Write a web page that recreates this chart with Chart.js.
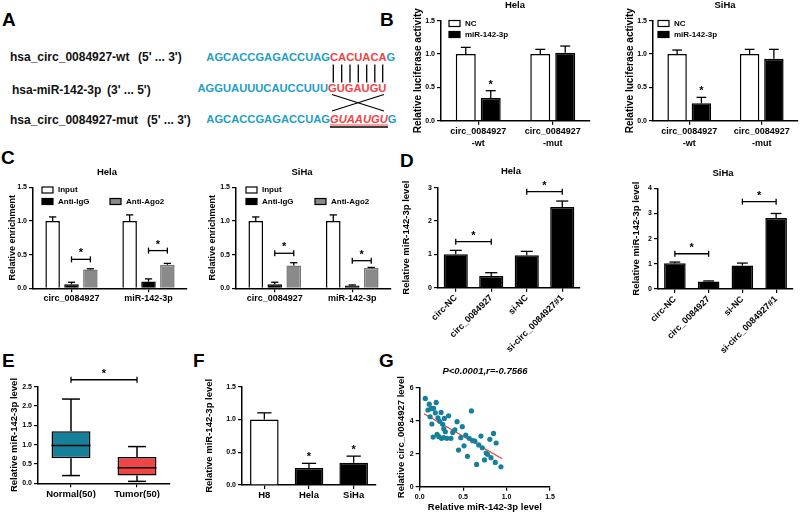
<!DOCTYPE html>
<html>
<head>
<meta charset="utf-8">
<script src="https://cdn.jsdelivr.net/npm/chart.js@4.4.1/dist/chart.umd.min.js"></script>
<style>
html, body { margin: 0; padding: 0; background: #fff; }
#wrap { position: relative; width: 800px; height: 513px; overflow: hidden; }
#wrap canvas, #wrap svg { position: absolute; left: 0; top: 0; }
</style>
</head>
<body>
<div id="wrap">
<svg width="800" height="513" font-family="Liberation Sans, Arial, sans-serif" font-weight="bold">
  <g font-size="19" fill="#000">
    <text x="2" y="26">A</text>
    <text x="380" y="26">B</text>
    <text x="1" y="164">C</text>
    <text x="400" y="167">D</text>
    <text x="2" y="367">E</text>
    <text x="193" y="367">F</text>
    <text x="379" y="367">G</text>
  </g>
  <g font-size="12" fill="#111">
    <text x="10" y="61">hsa_circ_0084927-wt</text><text x="138" y="61">(5' ... 3')</text>
    <text x="12" y="93.5">hsa-miR-142-3p</text><text x="107" y="93.5">(3' ... 5')</text>
    <text x="10" y="123.5">hsa_circ_0084927-mut</text><text x="147" y="123.5">(5' ... 3')</text>
  </g>
  <g font-size="11.2">
    <text x="330" y="61" text-anchor="end" fill="#1f9ec6">AGCACCGAGACCUAG</text>
    <text x="330" y="61"><tspan fill="#f24444">CACUACA</tspan><tspan fill="#1f9ec6">G</tspan></text>
    <text x="328" y="92" text-anchor="end" fill="#1f9ec6">AGGUAUUUCAUCCUUU</text>
    <text x="328" y="92" fill="#f24444">GUGAUGU</text>
    <text x="330" y="122.5" text-anchor="end" fill="#1f9ec6">AGCACCGAGACCUAG</text>
    <text x="330" y="122.5"><tspan fill="#f24444" font-style="italic">GUAAUGU</tspan><tspan fill="#1f9ec6">G</tspan></text>
  </g>
  <g stroke="#000" stroke-width="1.3">
    <line x1="333.3" y1="64.5" x2="333.3" y2="82.5"/>
    <line x1="341.7" y1="64.5" x2="341.7" y2="82.5"/>
    <line x1="350" y1="64.5" x2="350" y2="82.5"/>
    <line x1="358.3" y1="64.5" x2="358.3" y2="82.5"/>
    <line x1="366.7" y1="64.5" x2="366.7" y2="82.5"/>
    <line x1="374.8" y1="64.5" x2="374.8" y2="82.5"/>
    <line x1="382.7" y1="64.5" x2="382.7" y2="82.5"/>
    <line x1="332" y1="111" x2="384" y2="94.5"/>
    <line x1="332" y1="94.5" x2="384" y2="111"/>
    <line x1="330" y1="127" x2="388" y2="127"/>
  </g>
  <line x1="330" y1="125" x2="388" y2="125" stroke="#f24444" stroke-width="1"/>
</svg>
<canvas id="cBHela" width="800" height="513"></canvas>
<canvas id="cBSiha" width="800" height="513"></canvas>
<canvas id="cCHela" width="800" height="513"></canvas>
<canvas id="cCSiha" width="800" height="513"></canvas>
<canvas id="cDHela" width="800" height="513"></canvas>
<canvas id="cDSiha" width="800" height="513"></canvas>
<canvas id="cE" width="800" height="513"></canvas>
<canvas id="cF" width="800" height="513"></canvas>
<canvas id="cG" width="800" height="513"></canvas>
</div>
<script>
// B: luciferase reporter
const luciferaseGroups = [['circ_0084927', '-wt'], ['circ_0084927', '-mut']];
const lucHelaNC = [1.0, 1.0];
const lucHelaNCErr = [0.10, 0.07];
const lucHelaMiR = [0.34, 1.02];
const lucHelaMiRErr = [0.11, 0.10];
const lucSihaNC = [1.0, 1.0];
const lucSihaNCErr = [0.06, 0.07];
const lucSihaMiR = [0.26, 0.93];
const lucSihaMiRErr = [0.09, 0.14];

// C: RIP assay
const ripTargets = ['circ_0084927', 'miR-142-3p'];
const ripHelaInput = [1.0, 1.0];
const ripHelaInputErr = [0.06, 0.09];
const ripHelaIgG = [0.06, 0.10];
const ripHelaIgGErr = [0.03, 0.04];
const ripHelaAgo2 = [0.28, 0.35];
const ripHelaAgo2Err = [0.01, 0.02];
const ripSihaInput = [1.0, 1.0];
const ripSihaInputErr = [0.06, 0.09];
const ripSihaIgG = [0.06, 0.04];
const ripSihaIgGErr = [0.03, 0.01];
const ripSihaAgo2 = [0.34, 0.30];
const ripSihaAgo2Err = [0.04, 0.01];

// D: miR-142-3p after transfection
const transfectGroups = ['circ-NC', 'circ_0084927', 'si-NC', 'si-circ_0084927#1'];
const mirHela = [1.0, 0.35, 0.97, 2.42];
const mirHelaErr = [0.12, 0.10, 0.12, 0.18];
const mirSiha = [1.02, 0.30, 0.93, 2.82];
const mirSihaErr = [0.05, 0.02, 0.10, 0.18];

// E: tissues box plot
const tissueGroups = ['Normal(50)', 'Tumor(50)'];
const tissueMin = [0.20, 0.05];
const tissueQ1 = [0.65, 0.20];
const tissueMedian = [0.98, 0.40];
const tissueQ3 = [1.35, 0.68];
const tissueMax = [2.18, 0.95];

// F: cell lines
const cellLines = ['H8', 'Hela', 'SiHa'];
const cellLevel = [1.0, 0.26, 0.34];
const cellErr = [0.10, 0.07, 0.10];

// G: correlation
const corrMiR = [0.064, 0.095, 0.11, 0.13, 0.12, 0.16, 0.19, 0.18, 0.14, 0.155, 0.20, 0.21, 0.22, 0.23, 0.246, 0.25, 0.265, 0.277, 0.277, 0.284, 0.295, 0.314, 0.333, 0.36, 0.38, 0.405, 0.43, 0.447, 0.473, 0.49, 0.51, 0.53, 0.55, 0.57, 0.595, 0.61, 0.636, 0.655, 0.68, 0.705, 0.72, 0.746, 0.765, 0.78, 0.807, 0.82, 0.85, 0.87, 0.88, 0.935];
const corrCirc = [5.35, 4.65, 5.0, 4.73, 4.24, 4.75, 5.11, 4.48, 3.8, 3.01, 3.17, 4.18, 3.03, 3.96, 4.5, 2.93, 3.78, 3.51, 2.97, 4.14, 3.33, 2.93, 4.3, 2.93, 3.29, 3.45, 3.94, 2.22, 2.97, 3.64, 2.48, 3.13, 1.84, 2.93, 4.59, 2.79, 2.77, 1.35, 2.53, 3.07, 2.36, 1.62, 2.04, 1.96, 2.87, 1.76, 3.23, 1.47, 2.65, 1.21];
const fitX = [0.05, 0.95];
const fitY = [4.42, 1.70];

const FONT = '"Liberation Sans", Arial, Helvetica, sans-serif';
Chart.defaults.font.family = FONT;
Chart.defaults.color = '#000';
Chart.defaults.animation = false;
Chart.defaults.plugins.legend.display = false;
Chart.defaults.plugins.tooltip.enabled = false;

const TEAL = '#16809b';
const RED = '#f24444';
const GREY = '#8a8a8a';

// extra drawing per canvas (error bars, stars, titles, legends)
const extra = {};

function line(ctx, x1, y1, x2, y2) {
    ctx.beginPath();
    ctx.moveTo(x1, y1);
    ctx.lineTo(x2, y2);
    ctx.stroke();
}
function txt(ctx, t, x, y, size, style, align) {
    ctx.font = (style || 'bold') + ' ' + size + 'px ' + FONT;
    ctx.textAlign = align || 'center';
    ctx.textBaseline = 'middle';
    ctx.fillText(t, x, y);
}

const marks = {
    id: 'marks',
    afterDatasetsDraw(chart) {
        const o = extra[chart.canvas.id];
        if (!o) return;
        const ctx = chart.ctx;
        const ys = chart.scales.y;
        const el = (d, i) => chart.getDatasetMeta(d).data[i];
        const val = (d, i) => chart.data.datasets[d].data[i];
        const errTop = (d, i) => ys.getPixelForValue(val(d, i) + o.errors[d][i]);
        ctx.save();
        ctx.strokeStyle = '#000';
        ctx.fillStyle = '#000';
        ctx.lineWidth = 1.3;
        (o.errors || []).forEach((errs, d) => {
            errs.forEach((e, i) => {
                const b = el(d, i);
                const top = errTop(d, i);
                const h = b.width / 4;
                line(ctx, b.x, b.y, b.x, top);
                line(ctx, b.x - h, top, b.x + h, top);
            });
        });
        (o.stars || []).forEach(s => {
            txt(ctx, '*', el(s[0], s[1]).x, errTop(s[0], s[1]) - 6, 11);
        });
        (o.brackets || []).forEach(b => {
            const x1 = el(b[0], b[1]).x, x2 = el(b[2], b[3]).x;
            const y = ys.getPixelForValue(b[4]);
            line(ctx, x1, y, x2, y);
            line(ctx, x1, y - 3, x1, y + 3);
            line(ctx, x2, y - 3, x2, y + 3);
            txt(ctx, '*', (x1 + x2) / 2, y - 6, 11);
        });
        if (o.box) {
            const bx = o.box;
            bx.min.forEach((m, i) => {
                const b = el(0, i);
                const w = b.width;
                const pMin = ys.getPixelForValue(bx.min[i]);
                const pQ1 = ys.getPixelForValue(bx.q1[i]);
                const pMed = ys.getPixelForValue(bx.med[i]);
                const pQ3 = ys.getPixelForValue(bx.q3[i]);
                const pMax = ys.getPixelForValue(bx.max[i]);
                ctx.lineWidth = 1.5;
                line(ctx, b.x, pQ3, b.x, pMax);
                line(ctx, b.x, pQ1, b.x, pMin);
                line(ctx, b.x - w * 0.23, pMax, b.x + w * 0.23, pMax);
                line(ctx, b.x - w * 0.23, pMin, b.x + w * 0.23, pMin);
                line(ctx, b.x - w / 2, pMed, b.x + w / 2, pMed);
            });
            ctx.lineWidth = 1.3;
        }
        (o.legend || []).forEach(l => {
            ctx.fillStyle = l.fill;
            ctx.fillRect(l.x, l.y - 3, 11, 6);
            ctx.lineWidth = 1.2;
            ctx.strokeRect(l.x, l.y - 3, 11, 6);
            ctx.fillStyle = '#000';
            txt(ctx, l.t, l.x + 16, l.y, 8, 'bold', 'left');
        });
        (o.texts || []).forEach(t => {
            txt(ctx, t.t, t.x, t.y, t.s || 9.5, t.style || 'bold', 'center');
        });
        ctx.restore();
    }
};
Chart.register(marks);

// padding so that the chart area lands on [L,T,R,B] of the 800x513 page
function frame(L, T, R, B, yW, xH) {
    return {left: L - yW, top: T, right: 800 - R, bottom: 513 - B - xH};
}
const fmt1 = v => Number(v).toFixed(1);
const fmt0 = v => String(v);

function axisY(max, step, title, yW, fmt, titleSize) {
    return {
        min: 0,
        max: max,
        ticks: {stepSize: step, font: {size: 7, weight: 'bold'}, color: '#000', padding: 2, callback: fmt},
        grid: {drawOnChartArea: false, tickLength: 4, color: '#000', lineWidth: 1.2},
        border: {color: '#000', width: 1.5},
        title: {display: true, text: title, font: {size: titleSize, weight: 'bold'}, color: '#000', padding: 0},
        afterFit: s => { s.width = yW; }
    };
}
function axisX(xH, size, rot, lh) {
    return {
        z: 1,
        grid: {drawOnChartArea: false, offset: false, tickLength: 4, color: '#000', lineWidth: 1.2},
        border: {color: '#000', width: 1.5},
        ticks: {font: {size: size, weight: 'bold', lineHeight: lh || 1.2}, color: '#000', padding: 1,
            autoSkip: false, minRotation: rot, maxRotation: rot},
        afterFit: s => { s.height = xH; }
    };
}
function bars(data, fill, stroke, cat, bar) {
    return {data: data, backgroundColor: fill, borderColor: stroke, borderWidth: 1.5,
        categoryPercentage: cat, barPercentage: bar};
}
function barChart(id, labels, datasets, fr, yOpt, xOpt) {
    new Chart(document.getElementById(id), {
        type: 'bar',
        data: {labels: labels, datasets: datasets},
        options: {
            responsive: false,
            devicePixelRatio: 1,
            layout: {padding: frame.apply(null, fr)},
            scales: {x: xOpt, y: yOpt}
        }
    });
}

// ---- B ----
extra.cBHela = {
    errors: [lucHelaNCErr, lucHelaMiRErr],
    stars: [[1, 0]],
    texts: [{t: 'Hela', x: 515, y: 5.5}],
    legend: [{t: 'NC', fill: '#fff', x: 449, y: 23.5}, {t: 'miR-142-3p', fill: '#000', x: 449, y: 34.5}]
};
barChart('cBHela', luciferaseGroups,
    [bars(lucHelaNC, '#fff', '#000', 0.67, 0.8), bars(lucHelaMiR, '#000', '#000', 0.67, 0.8)],
    [441, 20.7, 590, 120.7, 29, 30],
    axisY(1.5, 0.5, 'Relative luciferase activity', 29, fmt1, 10),
    axisX(30, 9, 0, 1.35));

extra.cBSiha = {
    errors: [lucSihaNCErr, lucSihaMiRErr],
    stars: [[1, 0]],
    texts: [{t: 'SiHa', x: 725, y: 5.5}],
    legend: [{t: 'NC', fill: '#fff', x: 658, y: 23.5}, {t: 'miR-142-3p', fill: '#000', x: 658, y: 34.5}]
};
barChart('cBSiha', luciferaseGroups,
    [bars(lucSihaNC, '#fff', '#000', 0.67, 0.8), bars(lucSihaMiR, '#000', '#000', 0.67, 0.8)],
    [653, 20.7, 798, 120.7, 29, 30],
    axisY(1.5, 0.5, 'Relative luciferase activity', 29, fmt1, 10),
    axisX(30, 9, 0, 1.35));

// ---- C ----
extra.cCHela = {
    errors: [ripHelaInputErr, ripHelaIgGErr, ripHelaAgo2Err],
    brackets: [[1, 0, 2, 0, 0.43], [1, 1, 2, 1, 0.56]],
    texts: [{t: 'Hela', x: 107, y: 172}],
    legend: [{t: 'Input', fill: '#fff', x: 42, y: 190}, {t: 'Anti-IgG', fill: '#000', x: 42, y: 201.5},
        {t: 'Anti-Ago2', fill: GREY, x: 110, y: 201.5}]
};
barChart('cCHela', ripTargets,
    [bars(ripHelaInput, '#fff', '#000', 0.735, 0.77), bars(ripHelaIgG, '#000', '#000', 0.735, 0.77),
        bars(ripHelaAgo2, GREY, '#777', 0.735, 0.77)],
    [33, 187.3, 187, 288.3, 26, 15],
    axisY(1.5, 0.5, 'Relative enrichment', 26, fmt1, 9),
    axisX(15, 9, 0));

extra.cCSiha = {
    errors: [ripSihaInputErr, ripSihaIgGErr, ripSihaAgo2Err],
    brackets: [[1, 0, 2, 0, 0.52], [1, 1, 2, 1, 0.41]],
    texts: [{t: 'SiHa', x: 302, y: 172}],
    legend: [{t: 'Input', fill: '#fff', x: 246, y: 190}, {t: 'Anti-IgG', fill: '#000', x: 246, y: 201.5},
        {t: 'Anti-Ago2', fill: GREY, x: 315, y: 201.5}]
};
barChart('cCSiha', ripTargets,
    [bars(ripSihaInput, '#fff', '#000', 0.735, 0.77), bars(ripSihaIgG, '#000', '#000', 0.735, 0.77),
        bars(ripSihaAgo2, GREY, '#777', 0.735, 0.77)],
    [236, 187.3, 391, 288.3, 29, 15],
    axisY(1.5, 0.5, 'Relative enrichment', 29, fmt1, 9),
    axisX(15, 9, 0));

// ---- D ----
extra.cDHela = {
    errors: [mirHelaErr],
    brackets: [[0, 0, 0, 1, 1.38], [0, 2, 0, 3, 2.88]],
    texts: [{t: 'Hela', x: 511, y: 171.5}]
};
barChart('cDHela', transfectGroups,
    [bars(mirHela, '#000', '#000', 1, 0.68)],
    [438, 187.7, 580, 287.7, 37, 75],
    axisY(3, 1, 'Relative miR-142-3p level', 37, fmt0, 9.5),
    axisX(75, 9, 45));

extra.cDSiha = {
    errors: [mirSihaErr],
    brackets: [[0, 0, 0, 1, 1.4], [0, 2, 0, 3, 3.47]],
    texts: [{t: 'SiHa', x: 723, y: 173.5}]
};
barChart('cDSiha', transfectGroups,
    [bars(mirSiha, '#000', '#000', 1, 0.64)],
    [658, 188.3, 793, 289, 27, 75],
    axisY(4, 1, 'Relative miR-142-3p level', 27, fmt0, 9.5),
    axisX(75, 9, 45));

// ---- E ----
extra.cE = {
    errors: [],
    brackets: [[0, 0, 0, 1, 2.68]],
    box: {min: tissueMin, q1: tissueQ1, med: tissueMedian, q3: tissueQ3, max: tissueMax}
};
barChart('cE', tissueGroups,
    [{data: tissueQ1.map((q, i) => [q, tissueQ3[i]]), backgroundColor: [TEAL, RED], borderColor: '#000',
        borderWidth: 1.5, borderSkipped: false, categoryPercentage: 1, barPercentage: 0.59}],
    [38, 386.7, 170, 483.3, 29, 15],
    axisY(2.5, 0.5, 'Relative miR-142-3p level', 29, fmt1, 9.5),
    axisX(15, 9.5, 0));

// ---- F ----
extra.cF = {
    errors: [cellErr],
    stars: [[0, 1], [0, 2]]
};
barChart('cF', cellLines,
    [bars(cellLevel, ['#fff', '#000', '#000'], '#000', 1, 0.64)],
    [242, 386.6, 376, 485, 38, 15],
    axisY(1.5, 0.5, 'Relative miR-142-3p level', 38, fmt1, 9.5),
    axisX(15, 9.5, 0));

// ---- G ----
extra.cG = {
    texts: [{t: 'P<0.0001,r=-0.7566', x: 485, y: 371, style: 'italic bold'}]
};
const gx = axisX(26.3, 7, 0);
gx.type = 'linear';
gx.min = 0;
gx.max = 1.5;
gx.ticks.stepSize = 0.5;
gx.ticks.callback = fmt1;
gx.ticks.padding = 2;
gx.title = {display: true, text: 'Relative miR-142-3p level', font: {size: 9.5, weight: 'bold'}, color: '#000', padding: 0};
new Chart(document.getElementById('cG'), {
    type: 'scatter',
    data: {
        datasets: [
            {data: corrMiR.map((x, i) => ({x: x, y: corrCirc[i]})), backgroundColor: TEAL, borderWidth: 0, pointRadius: 2.6},
            {type: 'line', data: fitX.map((x, i) => ({x: x, y: fitY[i]})), borderColor: '#f03a3a', borderWidth: 1.2,
                pointRadius: 0, showLine: true, fill: false}
        ]
    },
    options: {
        responsive: false,
        devicePixelRatio: 1,
        layout: {padding: frame(419.7, 387.7, 550, 486.7, 24, 26.3)},
        scales: {
            x: gx,
            y: axisY(6, 2, 'Relative circ_0084927 level', 24, fmt0, 9.5)
        }
    }
});
</script>
</body>
</html>
